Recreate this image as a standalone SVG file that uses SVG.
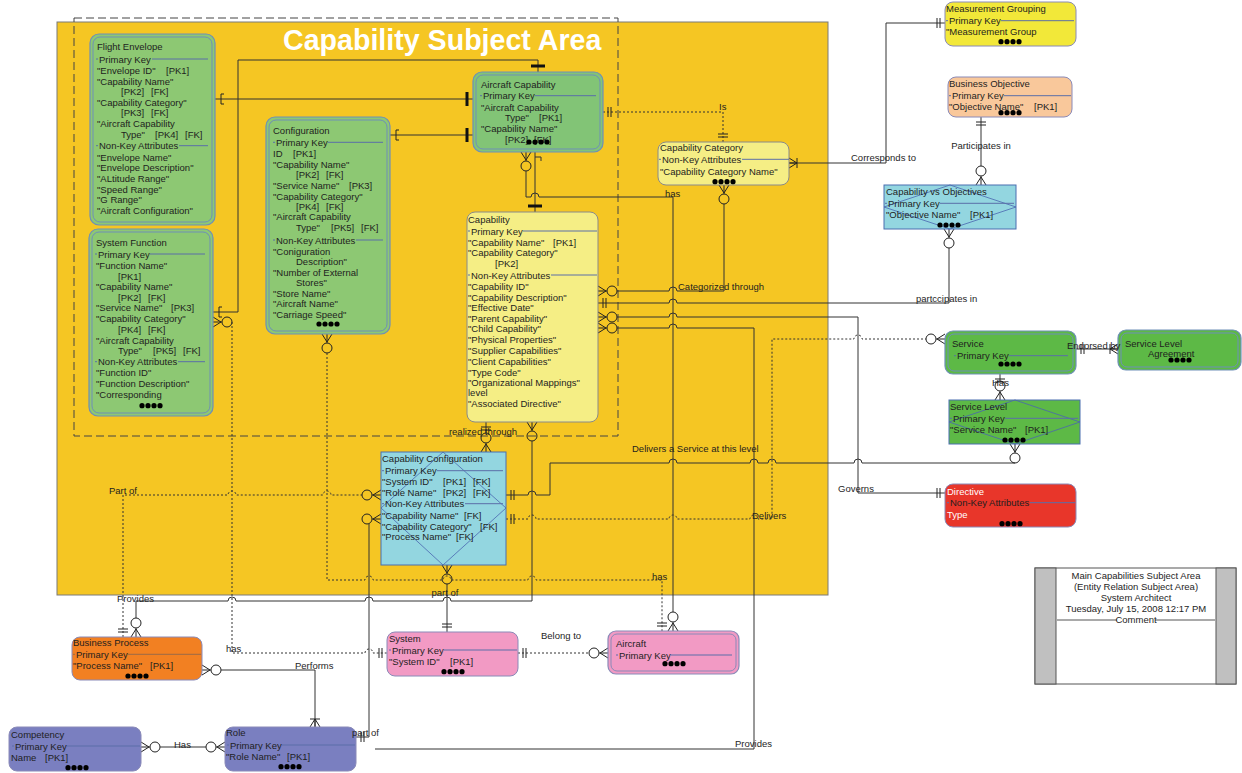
<svg xmlns="http://www.w3.org/2000/svg" xmlns:xlink="http://www.w3.org/1999/xlink" width="1242" height="773" viewBox="0 0 1242 773">
<style>
.t{font-family:"Liberation Sans",Arial,sans-serif;font-size:9.5px;fill:#1e1e1e}
.w{fill:#ffffff}
.sep{stroke:#5A6EA8;stroke-width:1;fill:none}
.c{stroke:#333;stroke-width:1;fill:none}
.d{stroke:#333;stroke-width:1;fill:none;stroke-dasharray:2,2}
.mk{stroke:#222;stroke-width:1;fill:none}
.ob{stroke:#6E8FB8;stroke-width:1.2}
.ib{stroke:#6E8FB8;stroke-width:1;fill:none}
.dia{stroke:#4A66B0;stroke-width:0.8;fill:none}
.g1{fill:#8DC873}
.g2{fill:#5DB946}
</style>
<defs>
<g id="d4" fill="#000"><circle cx="-9" r="2.6"/><circle cx="-3" r="2.6"/><circle cx="3" r="2.6"/><circle cx="9" r="2.6"/></g>
<g id="cfo" class="mk"><path d="M0,-5L8,0L0,5M0,0H9"/><circle cx="14" r="5"/></g>
<g id="cfb" class="mk"><path d="M0,-5L8,0L0,5M0,0H8M8,-5V5"/></g>
<g id="tb" class="mk"><path d="M5,-5V5M8,-5V5"/></g>
<g id="bb"><path d="M6,-7V7" stroke="#111" stroke-width="3"/></g>
<g id="br" class="mk"><path d="M9,-5H6V5H9"/></g>
</defs>
<rect width="1242" height="773" fill="#fff"/>

<g id="subject-area">
<rect x="57" y="22" width="771" height="573" fill="#F5C623" stroke="#7a7a7a"/>
<rect x="74" y="18" width="544" height="418" fill="none" stroke="#444" stroke-dasharray="8,4"/>
<text x="283" y="50" style="font-family:'Liberation Sans',Arial,sans-serif;font-size:28.6px;font-weight:bold;fill:#fff">Capability Subject Area</text>
</g>

<g id="connectors">
<path class="c" d="M215,99H473"/><use href="#br" transform="translate(215,99)"/><use href="#bb" transform="translate(473,99) rotate(180)"/>
<path class="c" d="M390,135H473"/><use href="#br" transform="translate(390,135)"/><use href="#bb" transform="translate(473,135) rotate(180)"/>
<path class="c" d="M213,312H238V60H538V72"/><use href="#br" transform="translate(213,312)"/><use href="#bb" transform="translate(538,72) rotate(-90)"/>
<use href="#cfo" transform="translate(526,152) rotate(90)"/>
<path class="c" d="M526,171V197H531a4,4 0 0 1 8,0H673V612"/>
<use href="#cfo" transform="translate(673,631) rotate(-90)"/>
<path class="c" d="M535,152V212M535,157h6v4"/><use href="#bb" transform="translate(535,212) rotate(-90)"/>
<path class="d" d="M603,112H723V142"/><use href="#tb" transform="translate(603,112)"/><use href="#tb" transform="translate(723,142) rotate(-90)"/>
<path class="c" d="M789,163H886V23H945"/><use href="#cfb" transform="translate(789,163)"/><use href="#tb" transform="translate(945,23) rotate(180)"/>
<path class="c" d="M981,117V166"/><use href="#tb" transform="translate(981,117) rotate(90)"/><use href="#cfo" transform="translate(981,185) rotate(-90)"/>
<path class="c" d="M598,303H669a4,4 0 0 1 8,0H949V248"/><use href="#tb" transform="translate(598,303)"/><use href="#cfo" transform="translate(949,229) rotate(90)"/>
<use href="#cfo" transform="translate(598,291)"/>
<path class="c" d="M617,291H669a4,4 0 0 1 8,0H724V204"/>
<use href="#cfo" transform="translate(724,185) rotate(90)"/>
<use href="#cfo" transform="translate(598,317)"/>
<path class="c" d="M617,317H669a4,4 0 0 1 8,0H858V493H945"/>
<use href="#tb" transform="translate(945,493) rotate(180)"/>
<use href="#cfo" transform="translate(598,328)"/>
<path class="c" d="M617,328H669a4,4 0 0 1 8,0H754V749H375"/>
<use href="#cfo" transform="translate(356,749) rotate(180)"/>
<use href="#cfo" transform="translate(486,452) rotate(-90)"/>
<path class="c" d="M486,433V422"/><use href="#tb" transform="translate(486,422) rotate(90)"/>
<use href="#cfo" transform="translate(532,422) rotate(90)"/>
<path class="c" d="M532,441V601H451a4,4 0 0 0 -8,0H373a4,4 0 0 0 -8,0H236a4,4 0 0 0 -8,0H136V618"/>
<use href="#cfo" transform="translate(136,637) rotate(-90)"/>
<path class="c" d="M447,632V584"/><use href="#tb" transform="translate(447,632) rotate(-90)"/><use href="#cfo" transform="translate(447,565) rotate(90)"/>
<use href="#tb" transform="translate(506,495)"/>
<path class="c" d="M506,495H528a4,4 0 0 1 8,0H550V463H669a4,4 0 0 1 8,0H750a4,4 0 0 1 8,0H768a4,4 0 0 1 8,0H854a4,4 0 0 1 8,0H1015"/>
<use href="#cfo" transform="translate(1015,444) rotate(90)"/>
<use href="#tb" transform="translate(506,519)"/>
<path class="d" d="M506,519H528a4,4 0 0 1 8,0H669a4,4 0 0 1 8,0H750a4,4 0 0 1 8,0H772V339H854a4,4 0 0 1 8,0H926"/>
<use href="#cfo" transform="translate(945,339) rotate(180)"/>
<path class="d" d="M123,637V495H228a4,4 0 0 1 8,0H323a4,4 0 0 1 8,0H362"/>
<use href="#tb" transform="translate(123,637) rotate(-90)"/><use href="#cfo" transform="translate(381,495) rotate(180)"/>
<use href="#cfo" transform="translate(327,334) rotate(90)"/>
<path class="d" d="M327,353V580H365a4,4 0 0 1 8,0H443a4,4 0 0 1 8,0H528a4,4 0 0 1 8,0H662V631"/>
<use href="#tb" transform="translate(662,631) rotate(-90)"/>
<use href="#cfo" transform="translate(213,322)"/>
<path class="d" d="M232,322V653H365a4,4 0 0 1 8,0H387"/>
<use href="#tb" transform="translate(387,653) rotate(180)"/>
<path class="d" d="M518,653H589"/><use href="#tb" transform="translate(518,653)"/><use href="#cfo" transform="translate(608,653) rotate(180)"/>
<use href="#cfo" transform="translate(202,670)"/>
<path class="c" d="M221,670H315V727"/><use href="#cfb" transform="translate(315,727) rotate(-90)"/>
<use href="#cfo" transform="translate(141,747)"/><path class="c" d="M160,747H206"/><use href="#cfo" transform="translate(225,747) rotate(180)"/>
<path class="c" d="M356,737H369V524"/><use href="#tb" transform="translate(356,737)"/><use href="#cfo" transform="translate(381,519) rotate(180)"/>
<path class="c" d="M1076,349H1118"/><use href="#tb" transform="translate(1076,349)"/><use href="#cfb" transform="translate(1118,349) rotate(180)"/>
<path class="c" d="M1000,374V381"/><use href="#tb" transform="translate(1000,374) rotate(90)"/><use href="#cfo" transform="translate(1000,400) rotate(-90)"/>
</g>

<g id="flight-envelope">
<rect x="90" y="34" width="125" height="191" rx="9" class="g1 ob"/>
<rect x="93" y="37" width="119" height="185" rx="7" class="ib"/>
<text class="t" x="97" y="50.2">Flight Envelope</text>
<path class="sep" d="M96,59H98M152,59H208"/><text class="t" x="99" y="62.5">Primary Key</text>
<text class="t" x="97" y="74.2">"Envelope ID"<tspan x="166">[PK1]</tspan></text>
<text class="t" x="97" y="84.8">"Capability Name"</text>
<text class="t" x="121" y="95.2">[PK2]<tspan x="151">[FK]</tspan></text>
<text class="t" x="97" y="105.8">"Capability Category"</text>
<text class="t" x="121" y="116.2">[PK3]<tspan x="151">[FK]</tspan></text>
<text class="t" x="97" y="126.8">"Aircraft Capability</text>
<text class="t" x="121" y="137.5">Type"<tspan x="155">[PK4]</tspan><tspan x="185">[FK]</tspan></text>
<path class="sep" d="M96,145.7H98M179,145.7H208"/><text class="t" x="99" y="149.2">Non-Key Attributes</text>
<text class="t" x="97" y="160.5">"Envelope Name"</text>
<text class="t" x="97" y="171.2">"Envelope Description"</text>
<text class="t" x="97" y="181.8">"ALtitude Range"</text>
<text class="t" x="97" y="192.5">"Speed  Range"</text>
<text class="t" x="97" y="203.2">"G Range"</text>
<text class="t" x="97" y="213.8">"Aircraft Configuration"</text>
</g>

<g id="system-function">
<rect x="89" y="229" width="124" height="187" rx="9" class="g1 ob"/>
<rect x="92" y="232" width="118" height="181" rx="7" class="ib"/>
<text class="t" x="96" y="245.8">System Function</text>
<path class="sep" d="M95,254H97M150,254H205"/><text class="t" x="98" y="257.5">Primary Key</text>
<text class="t" x="96" y="268.8">"Function Name"</text>
<text class="t" x="118" y="279.5">[PK1]</text>
<text class="t" x="96" y="289.8">"Capability Name"</text>
<text class="t" x="118" y="300.5">[PK2]<tspan x="148">[FK]</tspan></text>
<text class="t" x="96" y="310.8">"Service Name"<tspan x="171">[PK3]</tspan></text>
<text class="t" x="96" y="321.8">"Capability Category"</text>
<text class="t" x="118" y="332.5">[PK4]<tspan x="148">[FK]</tspan></text>
<text class="t" x="96" y="343.5">"Aircraft Capability</text>
<text class="t" x="118" y="354.2">Type"<tspan x="153">[PK5]</tspan><tspan x="183">[FK]</tspan></text>
<path class="sep" d="M95,361.7H97M178,361.7H205"/><text class="t" x="98" y="365.2">Non-Key Attributes</text>
<text class="t" x="96" y="376.2">"Function ID"</text>
<text class="t" x="96" y="387.2">"Function Description"</text>
<text class="t" x="96" y="398.2">"Corresponding</text>
<use href="#d4" x="151" y="405.7"/>
</g>

<g id="configuration">
<rect x="266" y="117" width="124" height="217" rx="9" class="g1 ob"/>
<rect x="269" y="120" width="118" height="211" rx="7" class="ib"/>
<text class="t" x="273" y="133.5">Configuration</text>
<path class="sep" d="M273,142.3H275M328,142.3H383"/><text class="t" x="276" y="145.8">Primary Key</text>
<text class="t" x="273" y="156.8">ID<tspan x="293">[PK1]</tspan></text>
<text class="t" x="273" y="167.5">"Capability Name"</text>
<text class="t" x="296" y="178.2">[PK2]<tspan x="326">[FK]</tspan></text>
<text class="t" x="273" y="189.2">"Service Name"<tspan x="349">[PK3]</tspan></text>
<text class="t" x="273" y="199.5">"Capability Category"</text>
<text class="t" x="296" y="209.8">[PK4]<tspan x="326">[FK]</tspan></text>
<text class="t" x="273" y="220.2">"Aircraft Capability</text>
<text class="t" x="296" y="231.2">Type"<tspan x="331">[PK5]</tspan><tspan x="361">[FK]</tspan></text>
<path class="sep" d="M273,240H275M356,240H383"/><text class="t" x="276" y="243.5">Non-Key Attributes</text>
<text class="t" x="273" y="254.5">"Coniguration</text>
<text class="t" x="296" y="264.8">Description"</text>
<text class="t" x="273" y="275.5">"Number of External</text>
<text class="t" x="296" y="285.8">Stores"</text>
<text class="t" x="273" y="296.8">"Store Name"</text>
<text class="t" x="273" y="307.2">"Aircraft Name"</text>
<text class="t" x="273" y="317.8">"Carriage Speed"</text>
<use href="#d4" x="328" y="324"/>
</g>

<g id="aircraft-capability">
<rect x="473" y="72" width="130" height="80" rx="9" fill="#82C476" class="ob"/>
<rect x="476" y="75" width="124" height="74" rx="7" class="ib"/>
<text class="t" x="481" y="87.8">Aircraft Capability</text>
<path class="sep" d="M480,95.7H482M535,95.7H596"/><text class="t" x="483" y="99.2">Primary Key</text>
<text class="t" x="481" y="110.5">"Aircraft Capability</text>
<text class="t" x="505" y="121.2">Type"<tspan x="539">[PK1]</tspan></text>
<text class="t" x="481" y="131.8">"Capability Name"</text>
<text class="t" x="505" y="142.8">[PK2]<tspan x="534">[FK]</tspan></text>
<use href="#d4" x="538" y="142"/>
</g>

<g id="capability">
<rect x="467" y="212" width="131" height="210" rx="8" fill="#F5EE85" stroke="#8A8A8A"/>
<text class="t" x="468" y="222.5">Capability</text>
<path class="sep" d="M468,231H470M523,231H597"/><text class="t" x="471" y="234.5">Primary Key</text>
<text class="t" x="468" y="246.2">"Capability Name"<tspan x="553">[PK1]</tspan></text>
<text class="t" x="468" y="256.2">"Capability Category"</text>
<text class="t" x="495" y="266.5">[PK2]</text>
<path class="sep" d="M468,275H470M551,275H597"/><text class="t" x="471" y="278.5">Non-Key Attributes</text>
<text class="t" x="468" y="290.2">"Capability ID"</text>
<text class="t" x="468" y="300.8">"Capability Description"</text>
<text class="t" x="468" y="311.2">"Effective Date"</text>
<text class="t" x="468" y="321.5">"Parent Capability"</text>
<text class="t" x="468" y="331.8">"Child Capability"</text>
<text class="t" x="468" y="342.8">"Physical Properties"</text>
<text class="t" x="468" y="353.8">"Supplier Capabilities"</text>
<text class="t" x="468" y="364.5">"Client Capabilities"</text>
<text class="t" x="468" y="375.5">"Type Code"</text>
<text class="t" x="468" y="386.2">"Organizational Mappings"</text>
<text class="t" x="468" y="396.2">level</text>
<text class="t" x="468" y="406.5">"Associated Directive"</text>
</g>

<g id="capability-category">
<rect x="658" y="142" width="131" height="43" rx="8" fill="#F5EE85" stroke="#8A8A8A"/>
<text class="t" x="660" y="151.2">Capability Category</text>
<path class="sep" d="M659,159.3H661M742,159.3H789"/><text class="t" x="662" y="162.8">Non-Key Attributes</text>
<text class="t" x="660" y="175.2">"Capability Category Name"</text>
<use href="#d4" x="724" y="181.7"/>
</g>

<g id="measurement-grouping">
<rect x="945" y="2" width="131" height="44" rx="8" fill="#F2E839" stroke="#8A8AB8"/>
<text class="t" x="946" y="11.8">Measurement Grouping</text>
<path class="sep" d="M946,20.7H948M1001,20.7H1074"/><text class="t" x="949" y="24.2">Primary Key</text>
<text class="t" x="946" y="35.2">"Measurement Group</text>
<use href="#d4" x="1010" y="41.7"/>
</g>

<g id="business-objective">
<rect x="948" y="77" width="124" height="40" rx="8" fill="#F9C89B" stroke="#8A8AB8"/>
<text class="t" x="949" y="87.2">Business Objective</text>
<path class="sep" d="M949,95.7H951M1004,95.7H1071"/><text class="t" x="952" y="99.2">Primary Key</text>
<text class="t" x="949" y="110.2">"Objective Name"<tspan x="1034">[PK1]</tspan></text>
<use href="#d4" x="1010" y="112.7"/>
</g>

<g id="capability-vs-objectives">
<rect x="884" y="185" width="132" height="44" fill="#93D6E0" stroke="#4A6FB0"/>
<path class="dia" d="M950,185L1016,207L950,229L884,207Z"/>
<text class="t" x="886" y="195.2">Capability vs  Objectives</text>
<path class="sep" d="M885,203.3H887M940,203.3H1014"/><text class="t" x="888" y="206.8">Primary Key</text>
<text class="t" x="886" y="217.5">"Objective Name"<tspan x="970">[PK1]</tspan></text>
<use href="#d4" x="949" y="225"/>
</g>

<g id="service">
<rect x="945" y="331" width="131" height="43" rx="8" class="g2 ob"/>
<rect x="948" y="334" width="125" height="37" rx="6" class="ib"/>
<text class="t" x="952" y="346.5">Service</text>
<path class="sep" d="M954,355.7H956M1009,355.7H1068"/><text class="t" x="957" y="359.2">Primary Key</text>
<use href="#d4" x="1010" y="364"/>
</g>

<g id="service-level-agreement">
<rect x="1118" y="330" width="123" height="40" rx="8" class="g2 ob"/>
<rect x="1121" y="333" width="117" height="34" rx="6" class="ib"/>
<text class="t" x="1125" y="346.5">Service Level</text>
<text class="t" x="1148" y="357.2">Agreement</text>
<use href="#d4" x="1180" y="360"/>
</g>

<g id="service-level">
<rect x="949" y="400" width="131" height="44" fill="#5DB946" stroke="#4A6FB0"/>
<path class="dia" d="M1015,400L1080,422L1015,444L949,422Z"/>
<text class="t" x="950" y="410.2">Service Level</text>
<path class="sep" d="M950,418.3H952M1005,418.3H1078"/><text class="t" x="953" y="421.8">Primary Key</text>
<text class="t" x="950" y="432.8">"Service Name"<tspan x="1025">[PK1]</tspan></text>
<use href="#d4" x="1014" y="440"/>
</g>

<g id="directive">
<rect x="945" y="484" width="131" height="43" rx="8" fill="#E8362A" stroke="#8A8AB8"/>
<text class="t w" x="947" y="494.5">Directive</text>
<path class="sep" d="M947,502.7H949M1030,502.7H1075"/><text class="t" x="950" y="506.2">Non-Key Attributes</text>
<text class="t w" x="947" y="518.2">Type</text>
<use href="#d4" x="1011" y="523.7"/>
</g>

<g id="capability-configuration">
<rect x="381" y="452" width="125" height="113" fill="#93D6E0" stroke="#4A6FB0"/>
<path class="dia" d="M443,452L506,508L443,565L381,508Z"/>
<text class="t" x="382" y="461.8">Capability Configuration</text>
<path class="sep" d="M382,470.7H384M437,470.7H503"/><text class="t" x="385" y="474.2">Primary Key</text>
<text class="t" x="382" y="485.2">"System ID"<tspan x="443">[PK1]</tspan><tspan x="473">[FK]</tspan></text>
<text class="t" x="382" y="495.5">"Role Name"<tspan x="443">[PK2]</tspan><tspan x="473">[FK]</tspan></text>
<path class="sep" d="M382,503.7H384M465,503.7H503"/><text class="t" x="385" y="507.2">Non-Key Attributes</text>
<text class="t" x="382" y="518.8">"Capability Name"<tspan x="464">[FK]</tspan></text>
<text class="t" x="382" y="529.5">"Capability Category"<tspan x="480">[FK]</tspan></text>
<text class="t" x="382" y="539.5">"Process Name"<tspan x="456">[FK]</tspan></text>
</g>

<g id="business-process">
<rect x="72" y="637" width="130" height="43" rx="8" fill="#F28022" stroke="#8A8AB8"/>
<text class="t" x="73" y="646.2">Business Process</text>
<path d="M73,654.3H75M128,654.3H201" stroke="#9A6A48" fill="none"/><text class="t" x="76" y="657.8">Primary Key</text>
<text class="t" x="73" y="669.2">"Process Name"<tspan x="150">[PK1]</tspan></text>
<use href="#d4" x="137" y="676"/>
</g>

<g id="competency">
<rect x="9" y="727" width="132" height="44" rx="8" fill="#7A7FC0" stroke="#8A8AB8"/>
<text class="t" x="11" y="738.2">Competency</text>
<path class="sep" d="M12,746H14M67,746H140"/><text class="t" x="15" y="749.5">Primary Key</text>
<text class="t" x="11" y="761.2">Name<tspan x="45">[PK1]</tspan></text>
<use href="#d4" x="77" y="767.7"/>
</g>

<g id="role">
<rect x="225" y="727" width="131" height="44" rx="8" fill="#7A7FC0" stroke="#8A8AB8"/>
<text class="t" x="226" y="736.2">Role</text>
<path class="sep" d="M227,745H229M282,745H355"/><text class="t" x="230" y="748.5">Primary Key</text>
<text class="t" x="226" y="759.5">"Role Name"<tspan x="287">[PK1]</tspan></text>
<use href="#d4" x="290" y="766.7"/>
</g>

<g id="system">
<rect x="387" y="632" width="131" height="44" rx="8" fill="#F29AC4" stroke="#8A8AB8"/>
<text class="t" x="389" y="641.8">System</text>
<path class="sep" d="M389,650H391M444,650H517"/><text class="t" x="392" y="653.5">Primary Key</text>
<text class="t" x="389" y="664.5">"System ID"<tspan x="450">[PK1]</tspan></text>
<use href="#d4" x="453" y="671.7"/>
</g>

<g id="aircraft">
<rect x="608" y="631" width="131" height="43" rx="8" fill="#F29AC4" stroke="#8A8AB8" stroke-width="1.2"/>
<rect x="611" y="634" width="125" height="37" rx="6" fill="none" stroke="#8A8AB8"/>
<text class="t" x="616" y="646.8">Aircraft</text>
<path class="sep" d="M616,655H618M671,655H732"/><text class="t" x="619" y="658.5">Primary Key</text>
<use href="#d4" x="674" y="663.7"/>
</g>

<g id="connector-labels">
<text class="t" x="665" y="197">has</text>
<text class="t" x="719" y="110">Is</text>
<text class="t" x="851" y="161">Corresponds to</text>
<text class="t" x="981" y="149" text-anchor="middle">Participates in</text>
<text class="t" x="916" y="302">partccipates in</text>
<text class="t" x="678" y="290">Categorized through</text>
<text class="t" x="838" y="492">Governs</text>
<text class="t" x="735" y="747">Provides</text>
<text class="t" x="483" y="435" text-anchor="middle">realized through</text>
<text class="t" x="117" y="602">Provides</text>
<text class="t" x="445" y="596" text-anchor="middle">part of</text>
<text class="t" x="632" y="452">Delivers a Service at this level</text>
<text class="t" x="752" y="519">Delivers</text>
<text class="t" x="109" y="494">Part of</text>
<text class="t" x="652" y="580">has</text>
<text class="t" x="226" y="652">has</text>
<text class="t" x="541" y="639">Belong to</text>
<text class="t" x="295" y="669">Performs</text>
<text class="t" x="174" y="748">Has</text>
<text class="t" x="352" y="736">part of</text>
<text class="t" x="1067" y="349">Endorsed by</text>
<text class="t" x="992" y="386">Has</text>
</g>

<g id="legend">
<rect x="1035" y="568" width="201" height="116" fill="#fff" stroke="#555"/>
<rect x="1035" y="568" width="21" height="116" fill="#C0C0C0" stroke="#555"/>
<rect x="1216" y="568" width="20" height="116" fill="#C0C0C0" stroke="#555"/>
<text class="t" x="1136" y="579" text-anchor="middle">Main Capabilities Subject Area</text>
<text class="t" x="1136" y="590" text-anchor="middle">(Entity Relation Subject Area)</text>
<text class="t" x="1136" y="601" text-anchor="middle">System Architect</text>
<text class="t" x="1136" y="611.5" text-anchor="middle">Tuesday, July 15, 2008 12:17 PM</text>
<path d="M1057,620H1117M1155,620H1215" stroke="#555" fill="none"/>
<text class="t" x="1136" y="623" text-anchor="middle">Comment</text>
</g>
</svg>
